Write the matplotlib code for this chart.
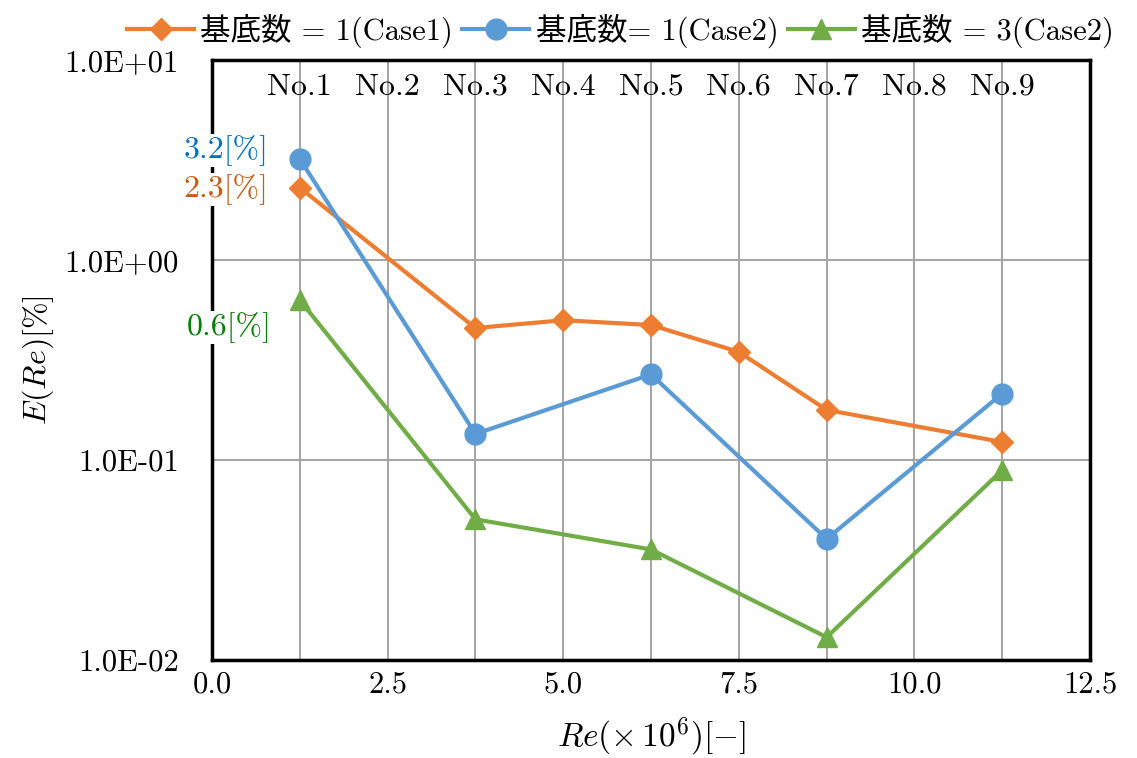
import numpy as np
import matplotlib.pyplot as plt

plt.rcParams['font.family'] = ['cmr10', 'Noto Sans CJK JP']
plt.rcParams['mathtext.fontset'] = 'cm'
plt.rcParams['axes.unicode_minus'] = False

x = [1.25, 3.75, 5.0, 6.25, 7.5, 8.75, 11.25]
y_case1 = [2.3, 0.457, 0.50, 0.473, 0.347, 0.178, 0.123]
x_b = [1.25, 3.75, 6.25, 8.75, 11.25]
y_case2 = [3.2, 0.135, 0.268, 0.0403, 0.215]
y_case3 = [0.63, 0.0505, 0.0357, 0.013, 0.089]

nos = ['No.1', 'No.2', 'No.3', 'No.4', 'No.5', 'No.6', 'No.7', 'No.8', 'No.9']
no_x = [1.25, 2.5, 3.75, 5.0, 6.25, 7.5, 8.75, 10.0, 11.25]
xticks = [0.0, 2.5, 5.0, 7.5, 10.0, 12.5]
yticks = [0.01, 0.1, 1, 10]
ylabels = ['1.0E-02', '1.0E-01', '1.0E+00', '1.0E+01']

orange = '#ED7D31'
blue = '#5B9BD5'
green = '#70AD47'

fig = plt.figure(figsize=(11.37, 7.58), dpi=100)
ax = fig.add_axes([0.1865, 0.1293, 0.7722, 0.7915])

ax.plot(x, y_case1, color=orange, lw=3, marker='D', ms=11, label='基底数 = 1(Case1)', zorder=3)
ax.plot(x_b, y_case2, color=blue, lw=3, marker='o', ms=15, label='基底数= 1(Case2)', zorder=3)
ax.plot(x_b, y_case3, color=green, lw=3, marker='^', ms=15, label='基底数 = 3(Case2)', zorder=3)

ax.set_yscale('log')
ax.set_xlim(0, 12.5)
ax.set_ylim(0.01, 10)
ax.set_xticks(xticks)
ax.set_xticklabels(['%.1f' % v for v in xticks])
ax.set_yticks(yticks)
ax.set_yticklabels(ylabels)
ax.minorticks_off()
ax.set_xticks(no_x, minor=True)
ax.tick_params(which='both', length=0, labelsize=22)
ax.tick_params(axis='x', pad=8)
ax.tick_params(axis='y', pad=24)
ax.grid(True, which='both', color='#A6A6A6', lw=1.5)
ax.set_axisbelow(True)
for s in ax.spines.values():
    s.set_linewidth(2.5)

for xx, t in zip(no_x, nos):
    ax.text(xx, 0.955, t, transform=ax.get_xaxis_transform(), ha='center', va='center', fontsize=23)

box = dict(facecolor='white', edgecolor='none', pad=1)
ax.text(1.25 - 0.45, 3.2 * 1.1, '3.2[%]', color='#0070C0', fontsize=23, ha='right', va='center',
        bbox=box, clip_on=False)
ax.text(1.25 - 0.45, 2.3 * 0.98, '2.3[%]', color='#C55A11', fontsize=23, ha='right', va='center',
        bbox=box, clip_on=False)
ax.text(1.25 - 0.40, 0.63 * 0.73, '0.6[%]', color='#008000', fontsize=23, ha='right', va='center',
        bbox=box, clip_on=False)

ax.set_ylabel(r'$E(Re)$[%]', fontsize=23, labelpad=6)
ax.set_xlabel(r'$Re(\times\,10^6)[-]$', fontsize=24, labelpad=12)

ax.legend(loc='lower center', bbox_to_anchor=(0.465, 0.995), ncol=3, frameon=False, fontsize=22,
          handlelength=2.2, columnspacing=0.3, handletextpad=0.2, borderaxespad=0.1)

fig.savefig('out.png', dpi=100)
